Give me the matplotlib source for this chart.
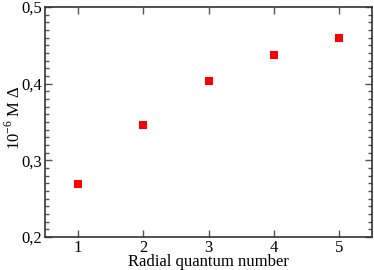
import matplotlib
matplotlib.use('Agg')
import matplotlib.pyplot as plt
from matplotlib.ticker import MultipleLocator, FuncFormatter

plt.rcParams['font.family'] = ['Liberation Serif', 'DejaVu Serif']
plt.rcParams['mathtext.fontset'] = 'custom'
plt.rcParams['mathtext.rm'] = 'Liberation Serif'

radial_n = [1, 2, 3, 4, 5]
m_delta = [0.269, 0.346, 0.403, 0.437, 0.459]

fig = plt.figure(figsize=(3.74, 2.70), dpi=100)
ax = fig.add_axes([45 / 374, 1 - 237 / 270, 327 / 374, 230 / 270])

ax.scatter(radial_n, m_delta, marker='s', s=40, color='#ff0000', zorder=3, linewidths=0)

ax.set_xlim(0.5, 5.5)
ax.set_ylim(0.2, 0.5)
ax.xaxis.set_major_locator(MultipleLocator(1))
ax.yaxis.set_major_locator(MultipleLocator(0.1))
ax.yaxis.set_minor_locator(MultipleLocator(0.01))
ax.yaxis.set_major_formatter(FuncFormatter(lambda v, p: f"{v:.1f}".replace('.', ',')))

ax.tick_params(which='both', direction='in', top=True, right=True, labelsize=12, color='#555555')
ax.tick_params(which='major', length=5, width=1, pad=2)
ax.tick_params(which='minor', length=3, width=1)
for s in ax.spines.values():
    s.set_linewidth(1.2)
    s.set_color('#333333')

ax.set_xlabel('Radial quantum number', fontsize=12, va='baseline')
ax.xaxis.set_label_coords(0.5, -0.128)
ax.set_ylabel(r'10$^{-6}$ M $\Delta$', fontsize=12, va='center')
ax.yaxis.set_label_coords(-0.095, 0.52)

fig.savefig('out.png', dpi=100)
